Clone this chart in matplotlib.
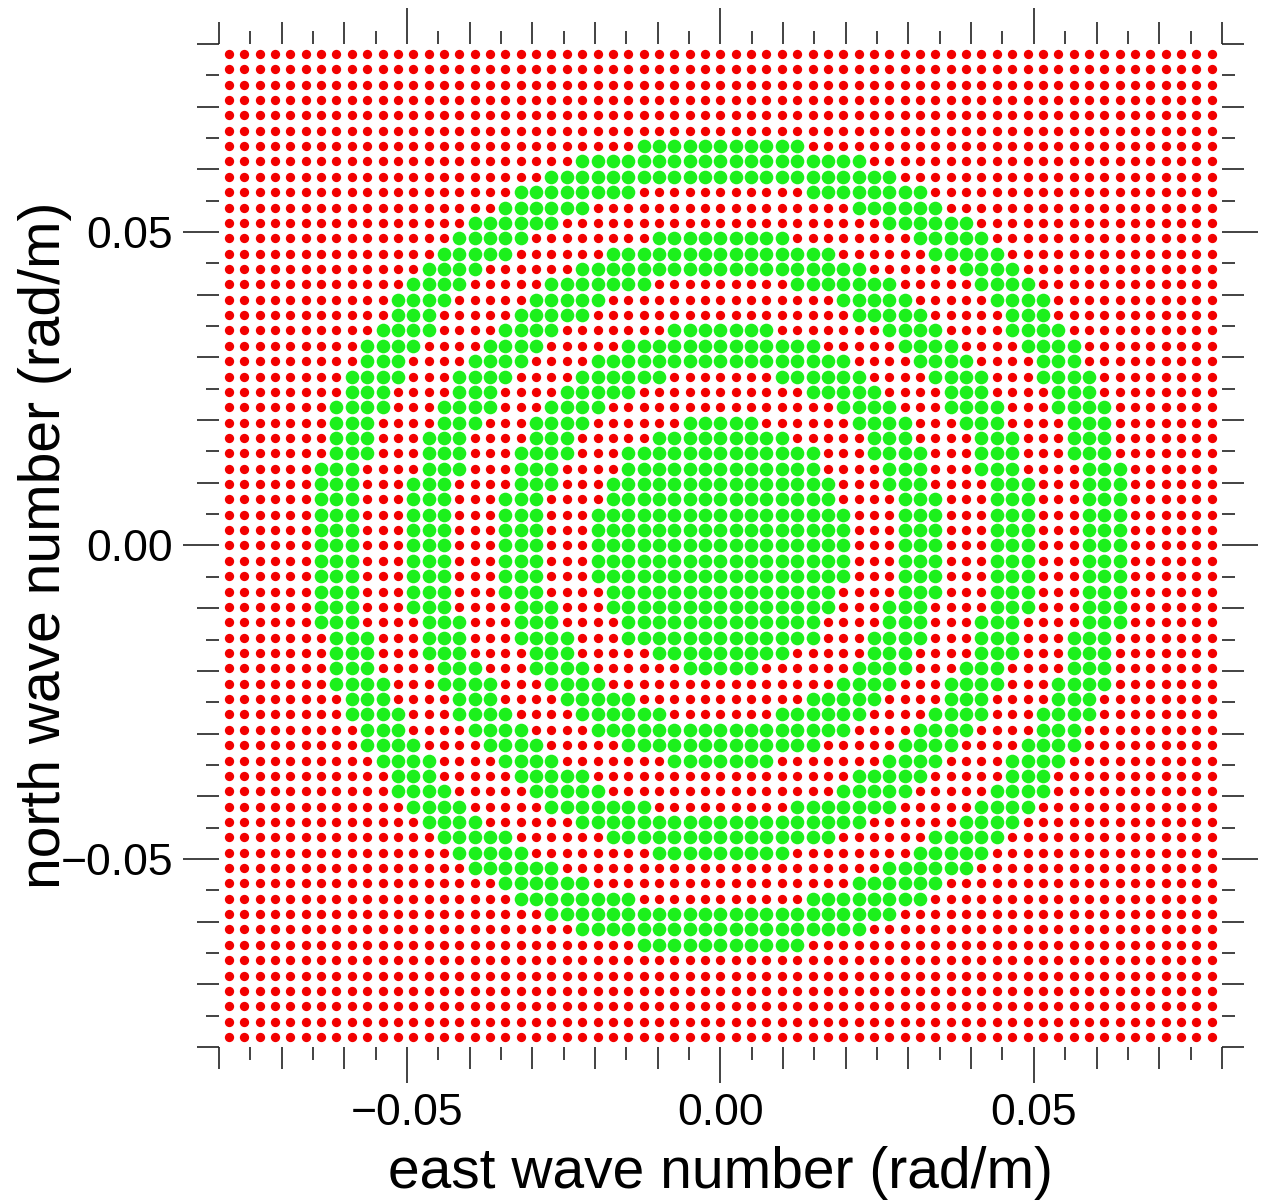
import numpy as np
import matplotlib
matplotlib.use('Agg')
import matplotlib.pyplot as plt

plt.rcParams['font.family'] = ['Liberation Sans', 'DejaVu Sans']

# wave number grid: 65 x 65 samples, spacing (rad/m)
dk = 0.00245
grid_index = np.arange(-32, 33)
east_k = grid_index * dk
north_k = grid_index * dk

# radial pass bands drawn in green (inner / outer |k|, rad/m)
band_inner = [0.0, 0.028175, 0.042826, 0.05782]
band_outer = [0.020874, 0.035525, 0.050225, 0.06517]

major_ticks = [-0.05, 0.0, 0.05]
major_labels = ['\u22120.05', '0.00', '0.05']
mid_ticks = [-0.08, -0.07, -0.06, -0.04, -0.03, -0.02, -0.01,
             0.01, 0.02, 0.03, 0.04, 0.06, 0.07, 0.08]
small_ticks = [-0.075, -0.065, -0.055, -0.045, -0.035, -0.025, -0.015, -0.005,
               0.005, 0.015, 0.025, 0.035, 0.045, 0.055, 0.065, 0.075]

kx, ky = np.meshgrid(east_k, north_k)
kr = np.hypot(kx, ky)
in_band = np.zeros(kr.shape, dtype=bool)
for lo, hi in zip(band_inner, band_outer):
    in_band |= (kr >= lo) & (kr <= hi)

fig = plt.figure(figsize=(12.62, 12.04), dpi=100)
rect = [0.1735, 0.1304, 0.7947, 0.8331]
ax = fig.add_axes(rect)

ax.plot(kx[~in_band], ky[~in_band], 'o', ms=6.7, color='#f20000', mec='none', ls='none')
ax.plot(kx[in_band], ky[in_band], 'o', ms=9.8, color='#1cf01c', mec='none', ls='none')

ax.set_xlim(-0.08, 0.08)
ax.set_ylim(-0.08, 0.08)
for s in ax.spines.values():
    s.set_visible(False)

ax.set_xticks(major_ticks)
ax.set_xticklabels(major_labels)
ax.set_yticks(major_ticks)
ax.set_yticklabels(major_labels)
ax.set_xticks(mid_ticks, minor=True)
ax.set_yticks(mid_ticks, minor=True)
ax.tick_params(which='both', direction='out', top=True, right=True,
               labeltop=False, labelright=False, color='#222222', width=1.2)
ax.tick_params(which='major', length=26, labelsize=32, pad=7)
ax.tick_params(which='minor', length=16)

# third tick level (every 0.005) on an overlaid empty axes
ax2 = fig.add_axes(rect)
ax2.set_xlim(-0.08, 0.08)
ax2.set_ylim(-0.08, 0.08)
ax2.patch.set_visible(False)
for s in ax2.spines.values():
    s.set_visible(False)
ax2.set_xticks(small_ticks)
ax2.set_yticks(small_ticks)
ax2.tick_params(direction='out', top=True, right=True, length=9.5, width=1.2,
                color='#222222', labelbottom=False, labelleft=False)

ax.set_xlabel('east wave number (rad/m)', fontsize=41)
ax.set_ylabel('north wave number (rad/m)', fontsize=41)
ax.xaxis.set_label_coords(0.5, -0.099)
ax.yaxis.set_label_coords(-0.147, 0.5)

fig.savefig('out.png', dpi=100)
